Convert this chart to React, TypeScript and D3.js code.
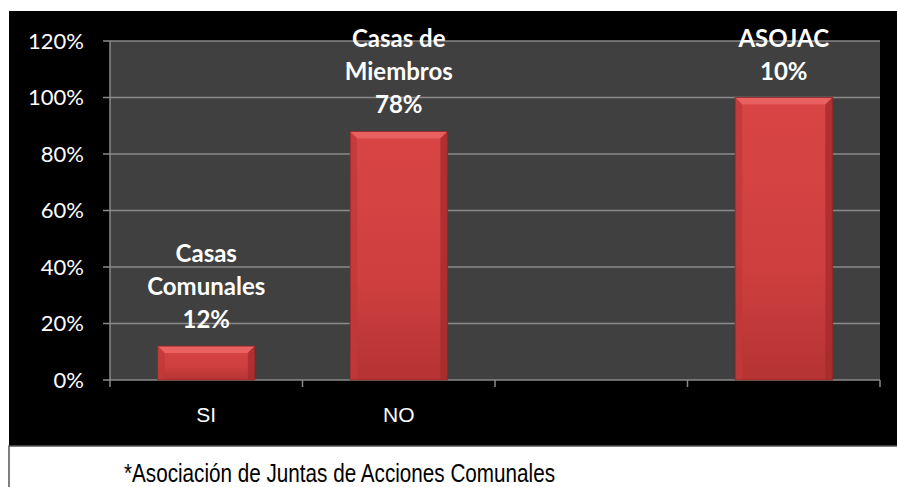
import React from 'react';
import * as d3 from 'd3';

const categories = ['SI', 'NO', '', ' '];
const barValues = [12, 88, null, 100];
const barLabels = [['Casas', 'Comunales', '12%'], ['Casas de', 'Miembros', '78%'], [], ['ASOJAC', '10%']];
const yTicks = [0, 20, 40, 60, 80, 100, 120];
const footnote = '*Asociación de Juntas de Acciones Comunales';

const W = 897;
const H = 487;
const panel = { left: 9, top: 11, bottom: 446 };
const plot = { left: 110, right: 880, top: 41, bottom: 380 };

export default function App() {
  const x = d3.scaleBand<string>().domain(categories).range([plot.left, plot.right]).paddingInner(0).paddingOuter(0);
  const y = d3.scaleLinear().domain([0, 120]).range([plot.bottom, plot.top]);
  const barW = x.bandwidth() * 0.505;
  const bevel = 7;
  const lineH = 33;

  return (
    <div style={{ position: 'absolute', left: 0, top: 0, width: W, height: H, overflow: 'hidden' }}>
      <svg width={W} height={H} style={{ display: 'block' }}>
        <defs>
          <linearGradient id="barFill" x1="0" y1="0" x2="0" y2="1">
            <stop offset="0%" stopColor="#d94545" />
            <stop offset="60%" stopColor="#cf3f3f" />
            <stop offset="100%" stopColor="#b53333" />
          </linearGradient>
        </defs>
        <rect x={0} y={0} width={W} height={H} fill="#fff" />
        <rect x={panel.left} y={panel.top} width={W - panel.left} height={panel.bottom - panel.top} fill="#000" />
        <rect x={plot.left} y={plot.top} width={plot.right - plot.left} height={plot.bottom - plot.top} fill="#404040" />

        {yTicks.map(t => (
          <g key={t}>
            <line x1={plot.left - 7} x2={plot.right} y1={y(t)} y2={y(t)} stroke="#8a8a8a" strokeWidth={1.5} />
            <text x={84} y={y(t)} dy="0.36em" textAnchor="end" fill="#fff"
              style={{ font: '22px Lato, "Open Sans", sans-serif' }}>{t}%</text>
          </g>
        ))}
        <line x1={plot.left} x2={plot.left} y1={plot.top} y2={plot.bottom} stroke="#8a8a8a" strokeWidth={1.5} />
        {categories.map((c, i) => (
          <line key={'t' + i} x1={(x(c) as number) + x.bandwidth()} x2={(x(c) as number) + x.bandwidth()}
            y1={plot.bottom} y2={plot.bottom + 7} stroke="#8a8a8a" strokeWidth={1.5} />
        ))}
        <line x1={plot.left} x2={plot.left} y1={plot.bottom} y2={plot.bottom + 7} stroke="#8a8a8a" strokeWidth={1.5} />

        {categories.map((c, i) => {
          const v = barValues[i];
          if (v == null) return null;
          const cx = (x(c) as number) + x.bandwidth() / 2;
          const x0 = cx - barW / 2;
          const x1 = cx + barW / 2;
          const y0 = y(v);
          const y1 = y(0);
          const lines = barLabels[i];
          return (
            <g key={'b' + i}>
              <rect x={x0} y={y0} width={barW} height={y1 - y0} fill="url(#barFill)" />
              <path d={`M${x0},${y0}L${x1},${y0}L${x1 - bevel},${y0 + bevel}L${x0 + bevel},${y0 + bevel}Z`} fill="#e86060" />
              <path d={`M${x0},${y0}L${x0 + bevel},${y0 + bevel}L${x0 + bevel},${y1}L${x0},${y1}Z`} fill="#c03838" opacity={0.8} />
              <path d={`M${x1},${y0}L${x1 - bevel},${y0 + bevel}L${x1 - bevel},${y1}L${x1},${y1}Z`} fill="#a52c2c" opacity={0.8} />
              <rect x={x0} y={y0} width={barW} height={y1 - y0} fill="none" stroke="#8e2626" strokeWidth={0.8} />
              {lines.map((l, k) => (
                <text key={k} x={cx} y={y0 - 18 - (lines.length - 1 - k) * lineH} textAnchor="middle" fill="#fff"
                  style={{ font: 'bold 24px Lato, "Open Sans", sans-serif' }}>{l}</text>
              ))}
            </g>
          );
        })}

        {categories.map((c, i) => (
          <text key={'x' + i} x={(x(c) as number) + x.bandwidth() / 2} y={422} textAnchor="middle" fill="#fff"
            style={{ font: '21px "Liberation Sans", Arial, sans-serif' }}>{c.trim()}</text>
        ))}

        <rect x={panel.left} y={panel.bottom} width={W} height={H} fill="#fff" stroke="#555" strokeWidth={1.5} />
        <text x={124} y={482} fill="#000" textLength={431} lengthAdjust="spacingAndGlyphs"
          style={{ font: '26px "Liberation Sans", Arial, sans-serif' }}>{footnote}</text>
      </svg>
    </div>
  );
}
